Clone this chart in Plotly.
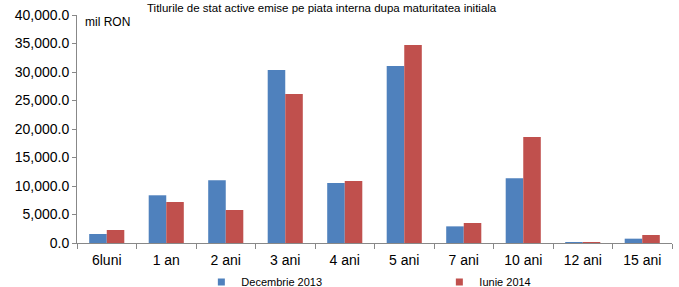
import plotly.graph_objects as go

categories = ["6luni", "1 an", "2 ani", "3 ani", "4 ani", "5 ani", "7 ani", "10 ani", "12 ani", "15 ani"]
dec_2013 = [1580, 8370, 11000, 30350, 10530, 31050, 2920, 11350, 50, 760]
iun_2014 = [2280, 7190, 5790, 26140, 10880, 34740, 3510, 18600, 50, 1400]
series_names = ["Decembrie 2013", "Iunie 2014"]
colors = ["#4F81BD", "#C0504D"]
tick_vals = [0, 5000, 10000, 15000, 20000, 25000, 30000, 35000, 40000]
tick_text = ["0.0", "5,000.0", "10,000.0", "15,000.0", "20,000.0", "25,000.0", "30,000.0", "35,000.0", "40,000.0"]
title_text = "Titlurile de stat active emise pe piata interna dupa maturitatea initiala"
unit_text = "mil RON"

FONT = "Liberation Sans, Arial, sans-serif"

fig = go.Figure()
for name, vals, col in zip(series_names, [dec_2013, iun_2014], colors):
    fig.add_trace(go.Bar(x=categories, y=vals, name=name, marker=dict(color=col, line=dict(width=0)),
                         showlegend=False))
    fig.add_trace(go.Scatter(x=[None], y=[None], mode="markers", name=name,
                             marker=dict(symbol="square", size=7, color=col)))

fig.update_layout(
    width=679, height=287,
    margin=dict(l=77, r=7, t=15, b=44, autoexpand=False),
    paper_bgcolor="white", plot_bgcolor="white",
    barmode="group", bargap=0.41, bargroupgap=0,
    font=dict(family=FONT, size=14, color="black"),
    showlegend=True,
    legend=dict(orientation="h", x=0.209, xanchor="left", y=-0.108, yanchor="top",
                font=dict(size=11), entrywidth=193, entrywidthmode="pixels",
                itemclick=False, bgcolor="rgba(0,0,0,0)"),
    xaxis=dict(type="category", showline=True, linecolor="#888888", linewidth=1,
               ticks="outside", tickson="boundaries", ticklen=5, tickcolor="#888888",
               showgrid=False, tickfont=dict(size=14), ticklabelstandoff=4),
    yaxis=dict(range=[0, 40000], tickvals=tick_vals, ticktext=tick_text, showline=True,
               linecolor="#888888", linewidth=1, ticks="outside", ticklen=4, tickcolor="#888888",
               showgrid=False, zeroline=False, tickfont=dict(size=14)),
    annotations=[
        dict(text=title_text, xref="paper", yref="paper", x=0.412, y=1.0658, xanchor="center",
             yanchor="top", showarrow=False, font=dict(size=11.5)),
        dict(text=unit_text, xref="paper", yref="paper", x=0.010, y=0.968, xanchor="left",
             yanchor="middle", showarrow=False, font=dict(size=12)),
    ],
)

fig.write_html("out.html", config={"displayModeBar": False},
               post_script="document.body.style.margin='0';")
